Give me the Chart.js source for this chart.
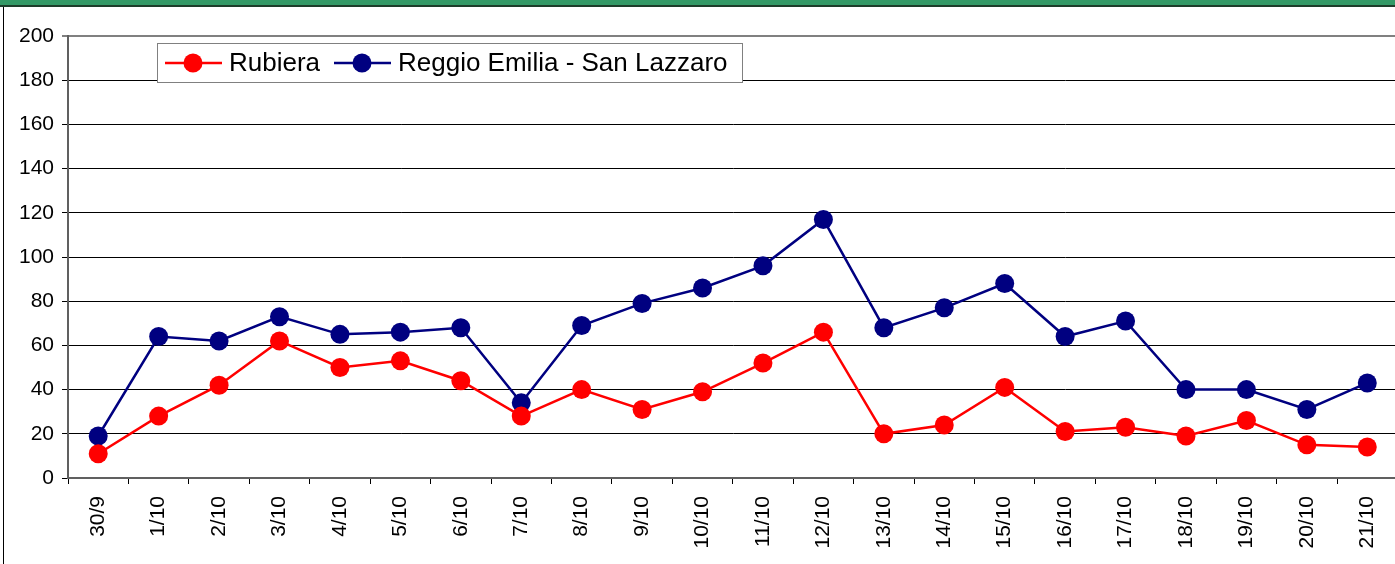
<!DOCTYPE html>
<html>
<head>
<meta charset="utf-8">
<script src="https://cdn.jsdelivr.net/npm/chart.js@4/dist/chart.umd.min.js"></script>
<style>
  html, body { margin: 0; padding: 0; background: #fff; overflow: hidden; }
  #banner { position: absolute; left: 0; top: 0; width: 1395px; height: 5px; background: #339966; border-bottom: 2px solid #1d3d2a; }
  #frame { position: absolute; left: 3px; top: 7px; width: 1px; height: 557px; background: #000; }
  #wrap { position: absolute; left: 0; top: 0; width: 1407px; height: 564px; }
</style>
</head>
<body>
<div id="banner"></div>
<div id="frame"></div>
<div id="wrap"><canvas id="chart"></canvas></div>
<script>
// Giorni (asse X)
const giorni = ['30/9', '1/10', '2/10', '3/10', '4/10', '5/10', '6/10', '7/10', '8/10', '9/10', '10/10',
  '11/10', '12/10', '13/10', '14/10', '15/10', '16/10', '17/10', '18/10', '19/10', '20/10', '21/10'];

// Valori delle due stazioni
const rubiera = [11, 28, 42, 62, 50, 53, 44, 28, 40, 31, 39, 52, 66, 20, 24, 41, 21, 23, 19, 26, 15, 14];
const reggioSanLazzaro = [19, 64, 62, 73, 65, 66, 68, 34, 69, 79, 86, 96, 117, 68, 77, 88, 64, 71, 40, 40, 31, 43];

// Asse Y
const yMin = 0, yMax = 200, yStep = 20;

// Legenda disegnata a mano (riquadro come in Excel)
const legendBox = {
  id: 'legendBox',
  afterDraw(chart) {
    const ctx = chart.ctx;
    ctx.save();
    ctx.fillStyle = '#fff';
    ctx.strokeStyle = '#808080';
    ctx.lineWidth = 1;
    ctx.fillRect(157.5, 43.5, 585, 39);
    ctx.strokeRect(157.5, 43.5, 585, 39);
    const voci = [
      { x: 165, testoX: 229 },
      { x: 334, testoX: 398 }
    ];
    const cy = 63;
    ctx.font = '26px "Liberation Sans", Arial, sans-serif';
    ctx.textBaseline = 'middle';
    chart.data.datasets.forEach((ds, i) => {
      const v = voci[i];
      ctx.strokeStyle = ds.borderColor;
      ctx.lineWidth = 2.5;
      ctx.beginPath();
      ctx.moveTo(v.x, cy);
      ctx.lineTo(v.x + 57, cy);
      ctx.stroke();
      ctx.fillStyle = ds.backgroundColor;
      ctx.beginPath();
      ctx.arc(v.x + 28, cy, 9.5, 0, Math.PI * 2);
      ctx.fill();
      ctx.fillStyle = '#000';
      ctx.fillText(ds.label, v.testoX, cy + 1);
    });
    ctx.restore();
  }
};

const ctx = document.getElementById('chart').getContext('2d');
new Chart(ctx, {
  type: 'line',
  data: {
    labels: giorni,
    datasets: [{
      label: 'Rubiera',
      data: rubiera,
      borderColor: '#ff0000',
      backgroundColor: '#ff0000',
      borderWidth: 2.5,
      pointRadius: 9.5,
      pointHoverRadius: 9.5,
      pointBorderWidth: 0,
      tension: 0
    }, {
      label: 'Reggio Emilia - San Lazzaro',
      data: reggioSanLazzaro,
      borderColor: '#000080',
      backgroundColor: '#000080',
      borderWidth: 2.5,
      pointRadius: 9.5,
      pointHoverRadius: 9.5,
      pointBorderWidth: 0,
      tension: 0
    }]
  },
  options: {
    responsive: true,
    maintainAspectRatio: false,
    animation: false,
    layout: { padding: { top: 36, left: 0, right: 0, bottom: 0 } },
    plugins: {
      legend: { display: false },
      tooltip: { enabled: false }
    },
    scales: {
      x: {
        offset: true,
        grid: {
          display: true,
          offset: true,
          drawOnChartArea: false,
          drawTicks: true,
          tickLength: 6,
          color: '#000',
          lineWidth: 1
        },
        border: { display: true, color: '#606060', width: 2 },
        ticks: {
          color: '#000',
          font: { family: '"Liberation Sans", Arial, sans-serif', size: 21 },
          minRotation: 90,
          maxRotation: 90,
          autoSkip: false,
          padding: 12
        },
        afterFit(scale) { scale.height = 86; }
      },
      y: {
        min: yMin,
        max: yMax,
        grid: {
          color: (c) => c.tick && c.tick.value === yMax ? '#808080' : '#000',
          lineWidth: (c) => c.tick && c.tick.value === yMax ? 2 : 1,
          tickLength: 6
        },
        border: { display: true, color: '#606060', width: 2 },
        ticks: {
          stepSize: yStep,
          color: '#000',
          font: { family: '"Liberation Sans", Arial, sans-serif', size: 21 },
          padding: 8
        },
        afterFit(scale) { scale.width = 68; }
      }
    }
  },
  plugins: [legendBox]
});
</script>
</body>
</html>
